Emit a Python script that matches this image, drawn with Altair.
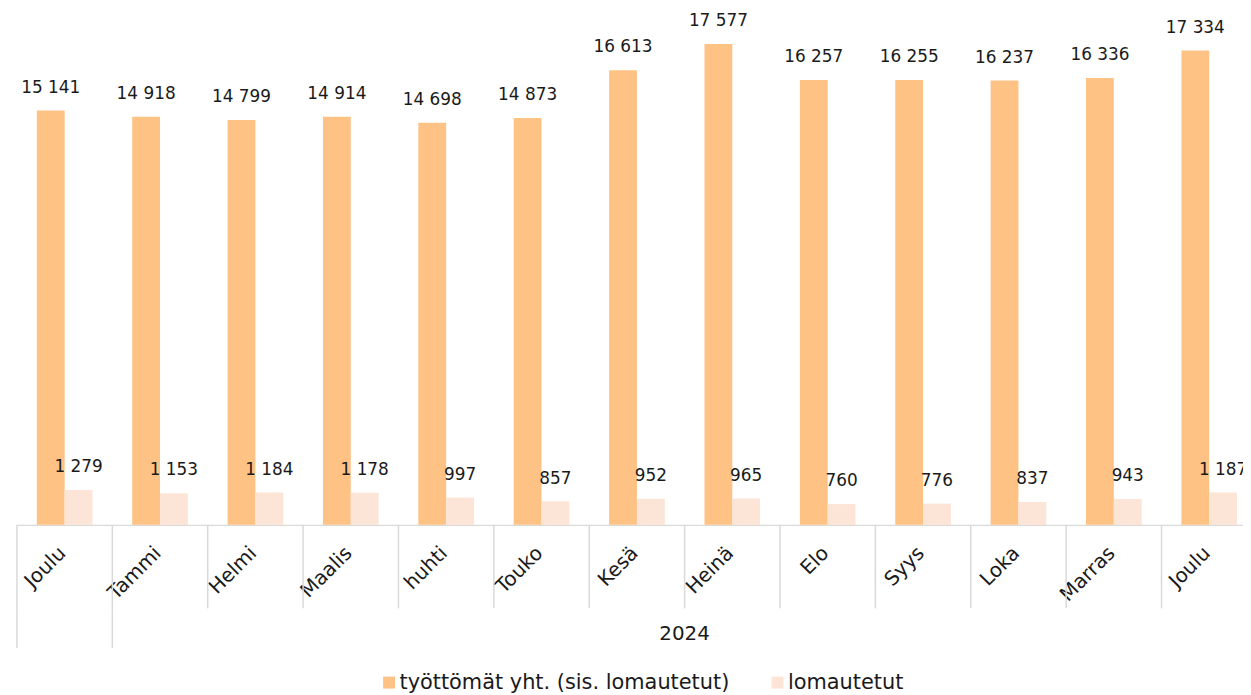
import altair as alt
import pandas as pd

# ---- data ----
months = ["Joulu", "Tammi", "Helmi", "Maalis", "huhti", "Touko", "Kesä",
          "Heinä", "Elo", "Syys", "Loka", "Marras", "Joulu"]
years = [""] + ["2024"] * 12
total = [15141, 14918, 14799, 14914, 14698, 14873, 16613,
         17577, 16257, 16255, 16237, 16336, 17334]
laid_off = [1279, 1153, 1184, 1178, 997, 857, 952,
            965, 760, 776, 837, 943, 1187]
series_names = ["työttömät yht. (sis. lomautetut)", "lomautetut"]
colors = ["#FFC285", "#FCE4D6"]

# ---- tables built from the arrays ----
n = len(months)
keys = [f"{m}|{y}|{i}" for i, (m, y) in enumerate(zip(months, years))]
rows = []
for k, t, l in zip(keys, total, laid_off):
    rows.append({"key": k, "series": series_names[0], "value": t})
    rows.append({"key": k, "series": series_names[1], "value": l})
df = pd.DataFrame(rows)

# category boundaries and year groups
runs = []
start = 0
for i in range(1, n + 1):
    if i == n or years[i] != years[start]:
        runs.append((start, i, years[start]))
        start = i
sep_df = pd.DataFrame({"key": keys})
grp_sep_df = pd.DataFrame({"key": [keys[s] for s, e, _ in runs]})
grp_lab_df = pd.DataFrame([{"key": keys[(s + e) // 2], "label": lab}
                           for s, e, lab in runs if lab])

FONT = "DejaVu Sans"
TXT = "#1a1a1a"
GRID = "#D9D9D9"
STEP = 96
PAD_IN = 0.4167
RANGE = [0, n * STEP]
HALF_GAP = STEP * PAD_IN / 2
PLOT_W = 1234
PLOT_H = 518
TOTAL_H = 686

band_scale = alt.Scale(range=RANGE, paddingInner=PAD_IN, paddingOuter=PAD_IN / 2)
band_axis = alt.Axis(title=None, labelExpr="split(datum.value, '|')[0]",
                     labelAngle=-45, labelAlign="right", labelBaseline="middle",
                     labelPadding=25, labelOffset=-2, ticks=False, tickSize=0,
                     domain=True, grid=False,
                     domainColor=GRID, domainWidth=1.5, labelFont=FONT,
                     labelFontSize=20, labelColor=TXT, labelOverlap=False)
x_band = alt.X("key:N", sort=keys, scale=band_scale, axis=band_axis)
x_edge = alt.X("key:N", sort=keys, scale=band_scale, axis=band_axis, bandPosition=0)
y_val = alt.Y("value:Q", scale=alt.Scale(domain=[0, 18810]), axis=None)
x_off = alt.XOffset("series:N", sort=series_names,
                    scale=alt.Scale(paddingInner=0, paddingOuter=0))

base = alt.Chart(df)
bars = base.mark_bar().encode(
    x=x_band, xOffset=x_off, y=y_val,
    color=alt.Color("series:N", sort=series_names,
                    scale=alt.Scale(domain=series_names, range=colors),
                    legend=alt.Legend(title=None, orient="none", legendX=364, legendY=666,
                                      direction="horizontal", symbolType="square",
                                      symbolSize=144, symbolStrokeWidth=0,
                                      labelFont=FONT, labelFontSize=21, labelColor=TXT,
                                      labelOffset=0, columnPadding=37, padding=0,
                                      labelLimit=0)),
)
labels = base.transform_calculate(
    lab="replace(format(datum.value, ','), ',', ' ')"
).mark_text(font=FONT, fontSize=17, color=TXT, baseline="middle", dy=-23).encode(
    x=x_band, xOffset=x_off, y=y_val, text="lab:N",
)

seps = alt.Chart(sep_df).mark_rule(color=GRID, strokeWidth=1.5, xOffset=-HALF_GAP).encode(
    x=x_edge, y=alt.value(PLOT_H), y2=alt.value(PLOT_H + 84),
)
gseps = alt.Chart(grp_sep_df).mark_rule(color=GRID, strokeWidth=1.5, xOffset=-HALF_GAP).encode(
    x=x_edge, y=alt.value(PLOT_H + 84), y2=alt.value(PLOT_H + 124),
)
glab = alt.Chart(grp_lab_df).mark_text(font=FONT, fontSize=20, color=TXT,
                                       baseline="middle", xOffset=-HALF_GAP).encode(
    x=x_edge, y=alt.value(PLOT_H + 110), text="label:N",
)

chart = alt.layer(bars, labels, seps, gseps, glab).properties(
    width=PLOT_W, height=PLOT_H,
    background="white",
    autosize=alt.AutoSizeParams(type="none"),
    padding={"left": 9, "top": 0, "right": 0, "bottom": TOTAL_H - PLOT_H},
).configure_view(
    strokeWidth=0, stroke="transparent"
)

chart.save("out.html", embed_options={"renderer": "svg", "actions": False})
